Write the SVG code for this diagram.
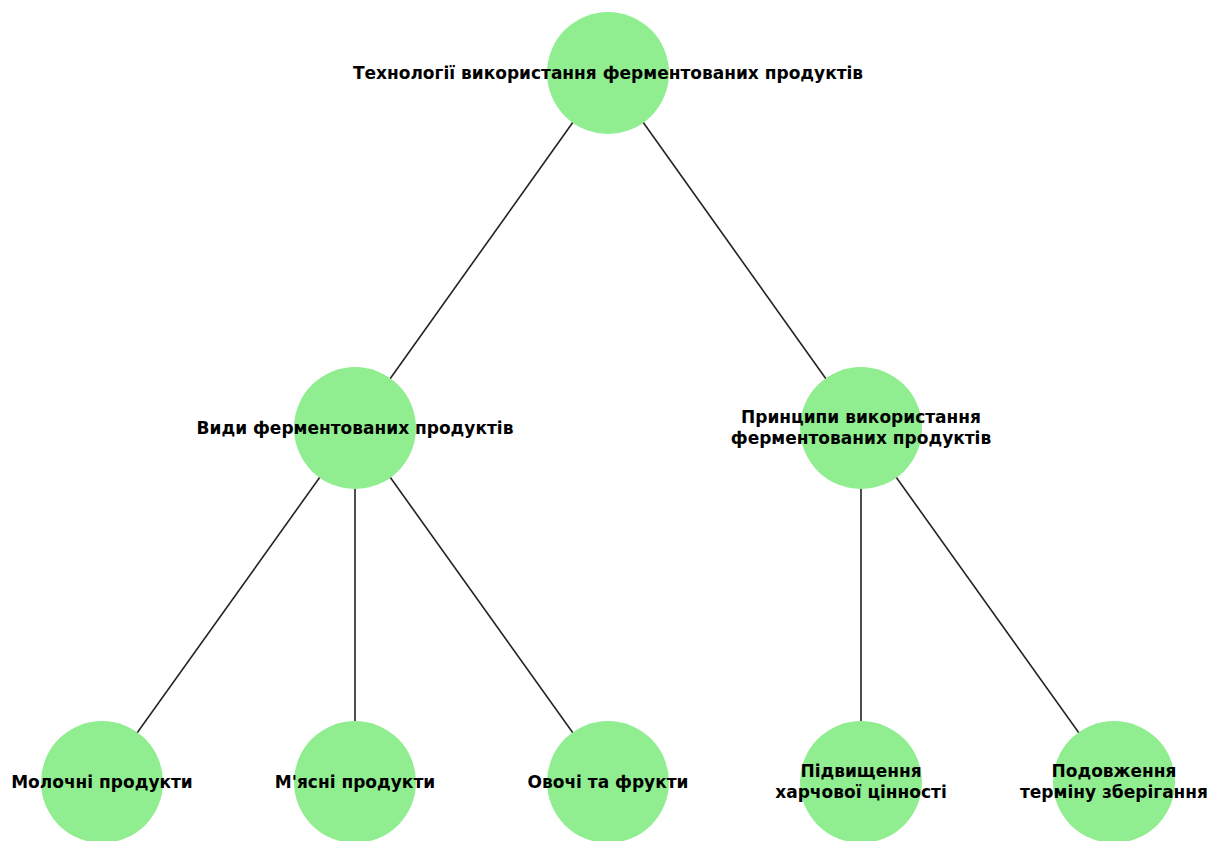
<svg xmlns="http://www.w3.org/2000/svg" width="1221" height="841" viewBox="0 0 1221 841">
<style>
.node{fill:#90ee90;}
.edge{stroke:#222;stroke-width:1.6;fill:none;}
.lbl{font-family:"DejaVu Sans",sans-serif;font-weight:bold;font-size:17px;fill:#000;text-anchor:middle;}
</style>
<rect width="1221" height="841" fill="#fff"/>
<g id="edges">
<line class="edge" x1="608" y1="73" x2="355" y2="428"/>
<line class="edge" x1="608" y1="73" x2="861" y2="428"/>
<line class="edge" x1="355" y1="428" x2="102" y2="782"/>
<line class="edge" x1="355" y1="428" x2="355" y2="782"/>
<line class="edge" x1="355" y1="428" x2="608" y2="782"/>
<line class="edge" x1="861" y1="428" x2="861" y2="782"/>
<line class="edge" x1="861" y1="428" x2="1114" y2="782"/>
</g>
<g id="n0"><circle class="node" cx="608" cy="73" r="61"/><text class="lbl" x="608" y="79">Технології використання ферментованих продуктів</text></g>
<g id="n1"><circle class="node" cx="355" cy="428" r="61"/><text class="lbl" x="355" y="434">Види ферментованих продуктів</text></g>
<g id="n2"><circle class="node" cx="861" cy="428" r="61"/><text class="lbl" x="861" y="423">Принципи використання</text><text class="lbl" x="861" y="444">ферментованих продуктів</text></g>
<g id="n3"><circle class="node" cx="102" cy="782" r="61"/><text class="lbl" x="102" y="788">Молочні продукти</text></g>
<g id="n4"><circle class="node" cx="355" cy="782" r="61"/><text class="lbl" x="355" y="788">М'ясні продукти</text></g>
<g id="n5"><circle class="node" cx="608" cy="782" r="61"/><text class="lbl" x="608" y="788">Овочі та фрукти</text></g>
<g id="n6"><circle class="node" cx="861" cy="782" r="61"/><text class="lbl" x="861" y="777">Підвищення</text><text class="lbl" x="861" y="798">харчової цінності</text></g>
<g id="n7"><circle class="node" cx="1114" cy="782" r="61"/><text class="lbl" x="1114" y="777">Подовження</text><text class="lbl" x="1114" y="798">терміну зберігання</text></g>
</svg>
